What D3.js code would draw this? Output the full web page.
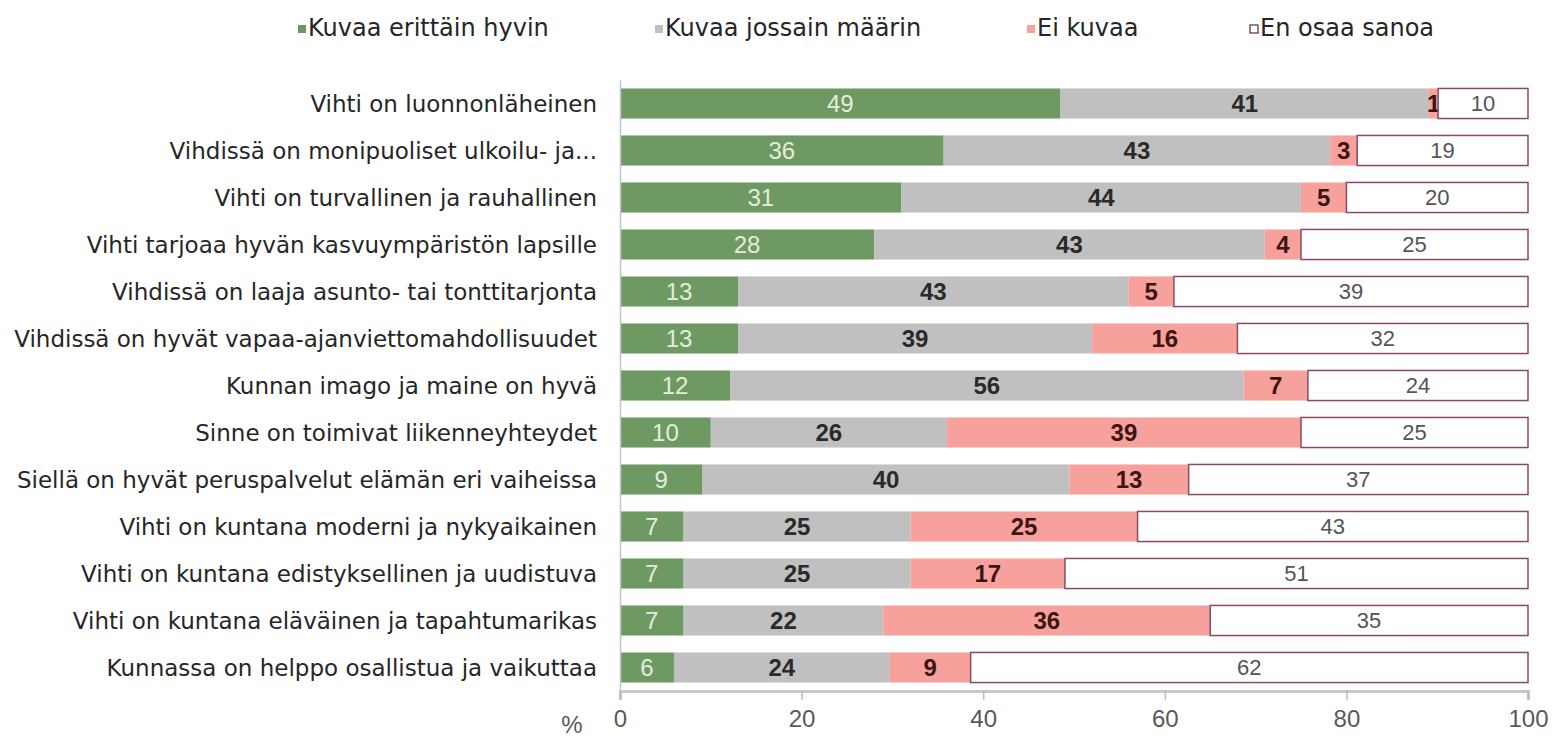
<!DOCTYPE html>
<html>
<head>
<meta charset="UTF-8">
<title>Vihti - mielikuvat</title>
<style>
html, body { margin:0; padding:0; background:#fff; }
svg { display:block; }
text.lbl { font-family:"DejaVu Sans", Verdana, sans-serif; font-size:23px; fill:#262626; }
text.leg { font-family:"DejaVu Sans", Verdana, sans-serif; font-size:24px; fill:#262626; }
.num { font-family:"Liberation Sans Narrow", "Liberation Sans", sans-serif; font-size:24px; }
.xax .tick text, .pct { font-family:"Liberation Sans Narrow", "Liberation Sans", sans-serif; font-size:24px; fill:#595959; }
</style>
<script src="https://cdnjs.cloudflare.com/ajax/libs/d3/7.8.5/d3.min.js"></script>
</head>
<body>
<script>
const categories = [
	'Vihti on luonnonläheinen',
	'Vihdissä on monipuoliset ulkoilu- ja...',
	'Vihti on turvallinen ja rauhallinen',
	'Vihti tarjoaa hyvän kasvuympäristön lapsille',
	'Vihdissä on laaja asunto- tai tonttitarjonta',
	'Vihdissä on hyvät vapaa-ajanviettomahdollisuudet',
	'Kunnan imago ja maine on hyvä',
	'Sinne on toimivat liikenneyhteydet',
	'Siellä on hyvät peruspalvelut elämän eri vaiheissa',
	'Vihti on kuntana moderni ja nykyaikainen',
	'Vihti on kuntana edistyksellinen ja uudistuva',
	'Vihti on kuntana eläväinen ja tapahtumarikas',
	'Kunnassa on helppo osallistua ja vaikuttaa'
];
const seriesNames = ['Kuvaa erittäin hyvin', 'Kuvaa jossain määrin', 'Ei kuvaa', 'En osaa sanoa'];
const erittain = [49, 36, 31, 28, 13, 13, 12, 10, 9, 7, 7, 7, 6];
const jossain  = [41, 43, 44, 43, 43, 39, 56, 26, 40, 25, 25, 22, 24];
const eiKuvaa  = [1, 3, 5, 4, 5, 16, 7, 39, 13, 25, 17, 36, 9];
const enOsaa   = [10, 19, 20, 25, 39, 32, 24, 25, 37, 43, 51, 35, 62];
const xTicks = [0, 20, 40, 60, 80, 100];

const fills = ['#6f9963', '#c0c0c0', '#f6a19b', '#ffffff'];
const numColor = ['#e4ecdc', '#2a2a2a', '#3d1414', '#555555'];
const numWeight = ['normal', 'bold', 'bold', 'normal'];
const legendX = [298, 655, 1027, 1250];

const rows = categories.map((c, i) => ({
	cat: c,
	[seriesNames[0]]: erittain[i],
	[seriesNames[1]]: jossain[i],
	[seriesNames[2]]: eiKuvaa[i],
	[seriesNames[3]]: enOsaa[i]
}));

const W = 1552, H = 741;
const svg = d3.select('body').append('svg').attr('width', W).attr('height', H);

const x = d3.scaleLinear().domain([0, 1]).range([620, 1528]);
const y = d3.scaleBand().domain(categories).range([80, 691]).paddingInner(0.36).paddingOuter(0.18);

const stacked = d3.stack().keys(seriesNames).offset(d3.stackOffsetExpand)(rows);

// bars
const layers = svg.selectAll('g.layer').data(stacked).enter().append('g').attr('class', 'layer');
layers.each(function(s, si) {
	const g = d3.select(this);
	g.selectAll('rect').data(s).enter().append('rect')
		.attr('x', d => x(d[0]))
		.attr('y', d => y(d.data.cat))
		.attr('width', d => x(d[1]) - x(d[0]))
		.attr('height', y.bandwidth())
		.attr('fill', fills[si])
		.attr('stroke', si === 3 ? '#8b4a62' : 'none')
		.attr('stroke-width', 1.5);
	g.selectAll('text').data(s).enter().append('text')
		.attr('class', 'num')
		.attr('x', d => (x(d[0]) + x(d[1])) / 2)
		.attr('y', d => y(d.data.cat) + y.bandwidth() / 2)
		.attr('dy', '0.36em')
		.attr('text-anchor', 'middle')
		.attr('fill', numColor[si])
		.attr('font-weight', numWeight[si])
		.style('font-size', si === 3 ? '22px' : null)
		.text(d => d.data[s.key]);
});

// x axis
const xAxis = svg.append('g').attr('class', 'xax').attr('transform', 'translate(0,691)')
	.call(d3.axisBottom(x).tickValues(xTicks.map(v => v / 100)).tickFormat(d => Math.round(d * 100)).tickSize(9).tickPadding(10));
xAxis.select('.domain').attr('stroke', '#c8c8c8').attr('stroke-width', 3);
xAxis.selectAll('.tick line').attr('stroke', '#bdbdbd').attr('stroke-width', 1.5);

svg.append('text').attr('class', 'pct')
	.attr('x', 572).attr('y', 731)
	.attr('dy', '0.1em')
	.attr('text-anchor', 'middle')
	.text('%');

// y axis
const yAxis = svg.append('g').attr('class', 'yax').attr('transform', 'translate(620,0)')
	.call(d3.axisLeft(y).tickSize(0).tickPadding(23));
yAxis.select('.domain').attr('stroke', '#c4c4cc').attr('stroke-width', 1.5);
yAxis.selectAll('.tick text').attr('class', 'lbl').attr('dy', '0.36em');

// legend
const legend = svg.selectAll('g.legend').data(seriesNames).enter().append('g')
	.attr('class', 'legend')
	.attr('transform', (d, i) => `translate(${legendX[i]},0)`);
legend.append('rect').attr('x', 0).attr('y', 25).attr('width', 8).attr('height', 8)
	.attr('fill', (d, i) => fills[i])
	.attr('stroke', (d, i) => i === 3 ? '#5a2a3a' : 'none').attr('stroke-width', 1.2);
legend.append('text').attr('class', 'leg').attr('x', 10).attr('y', 27).attr('dy', '0.36em').text(d => d);
</script>
</body>
</html>
